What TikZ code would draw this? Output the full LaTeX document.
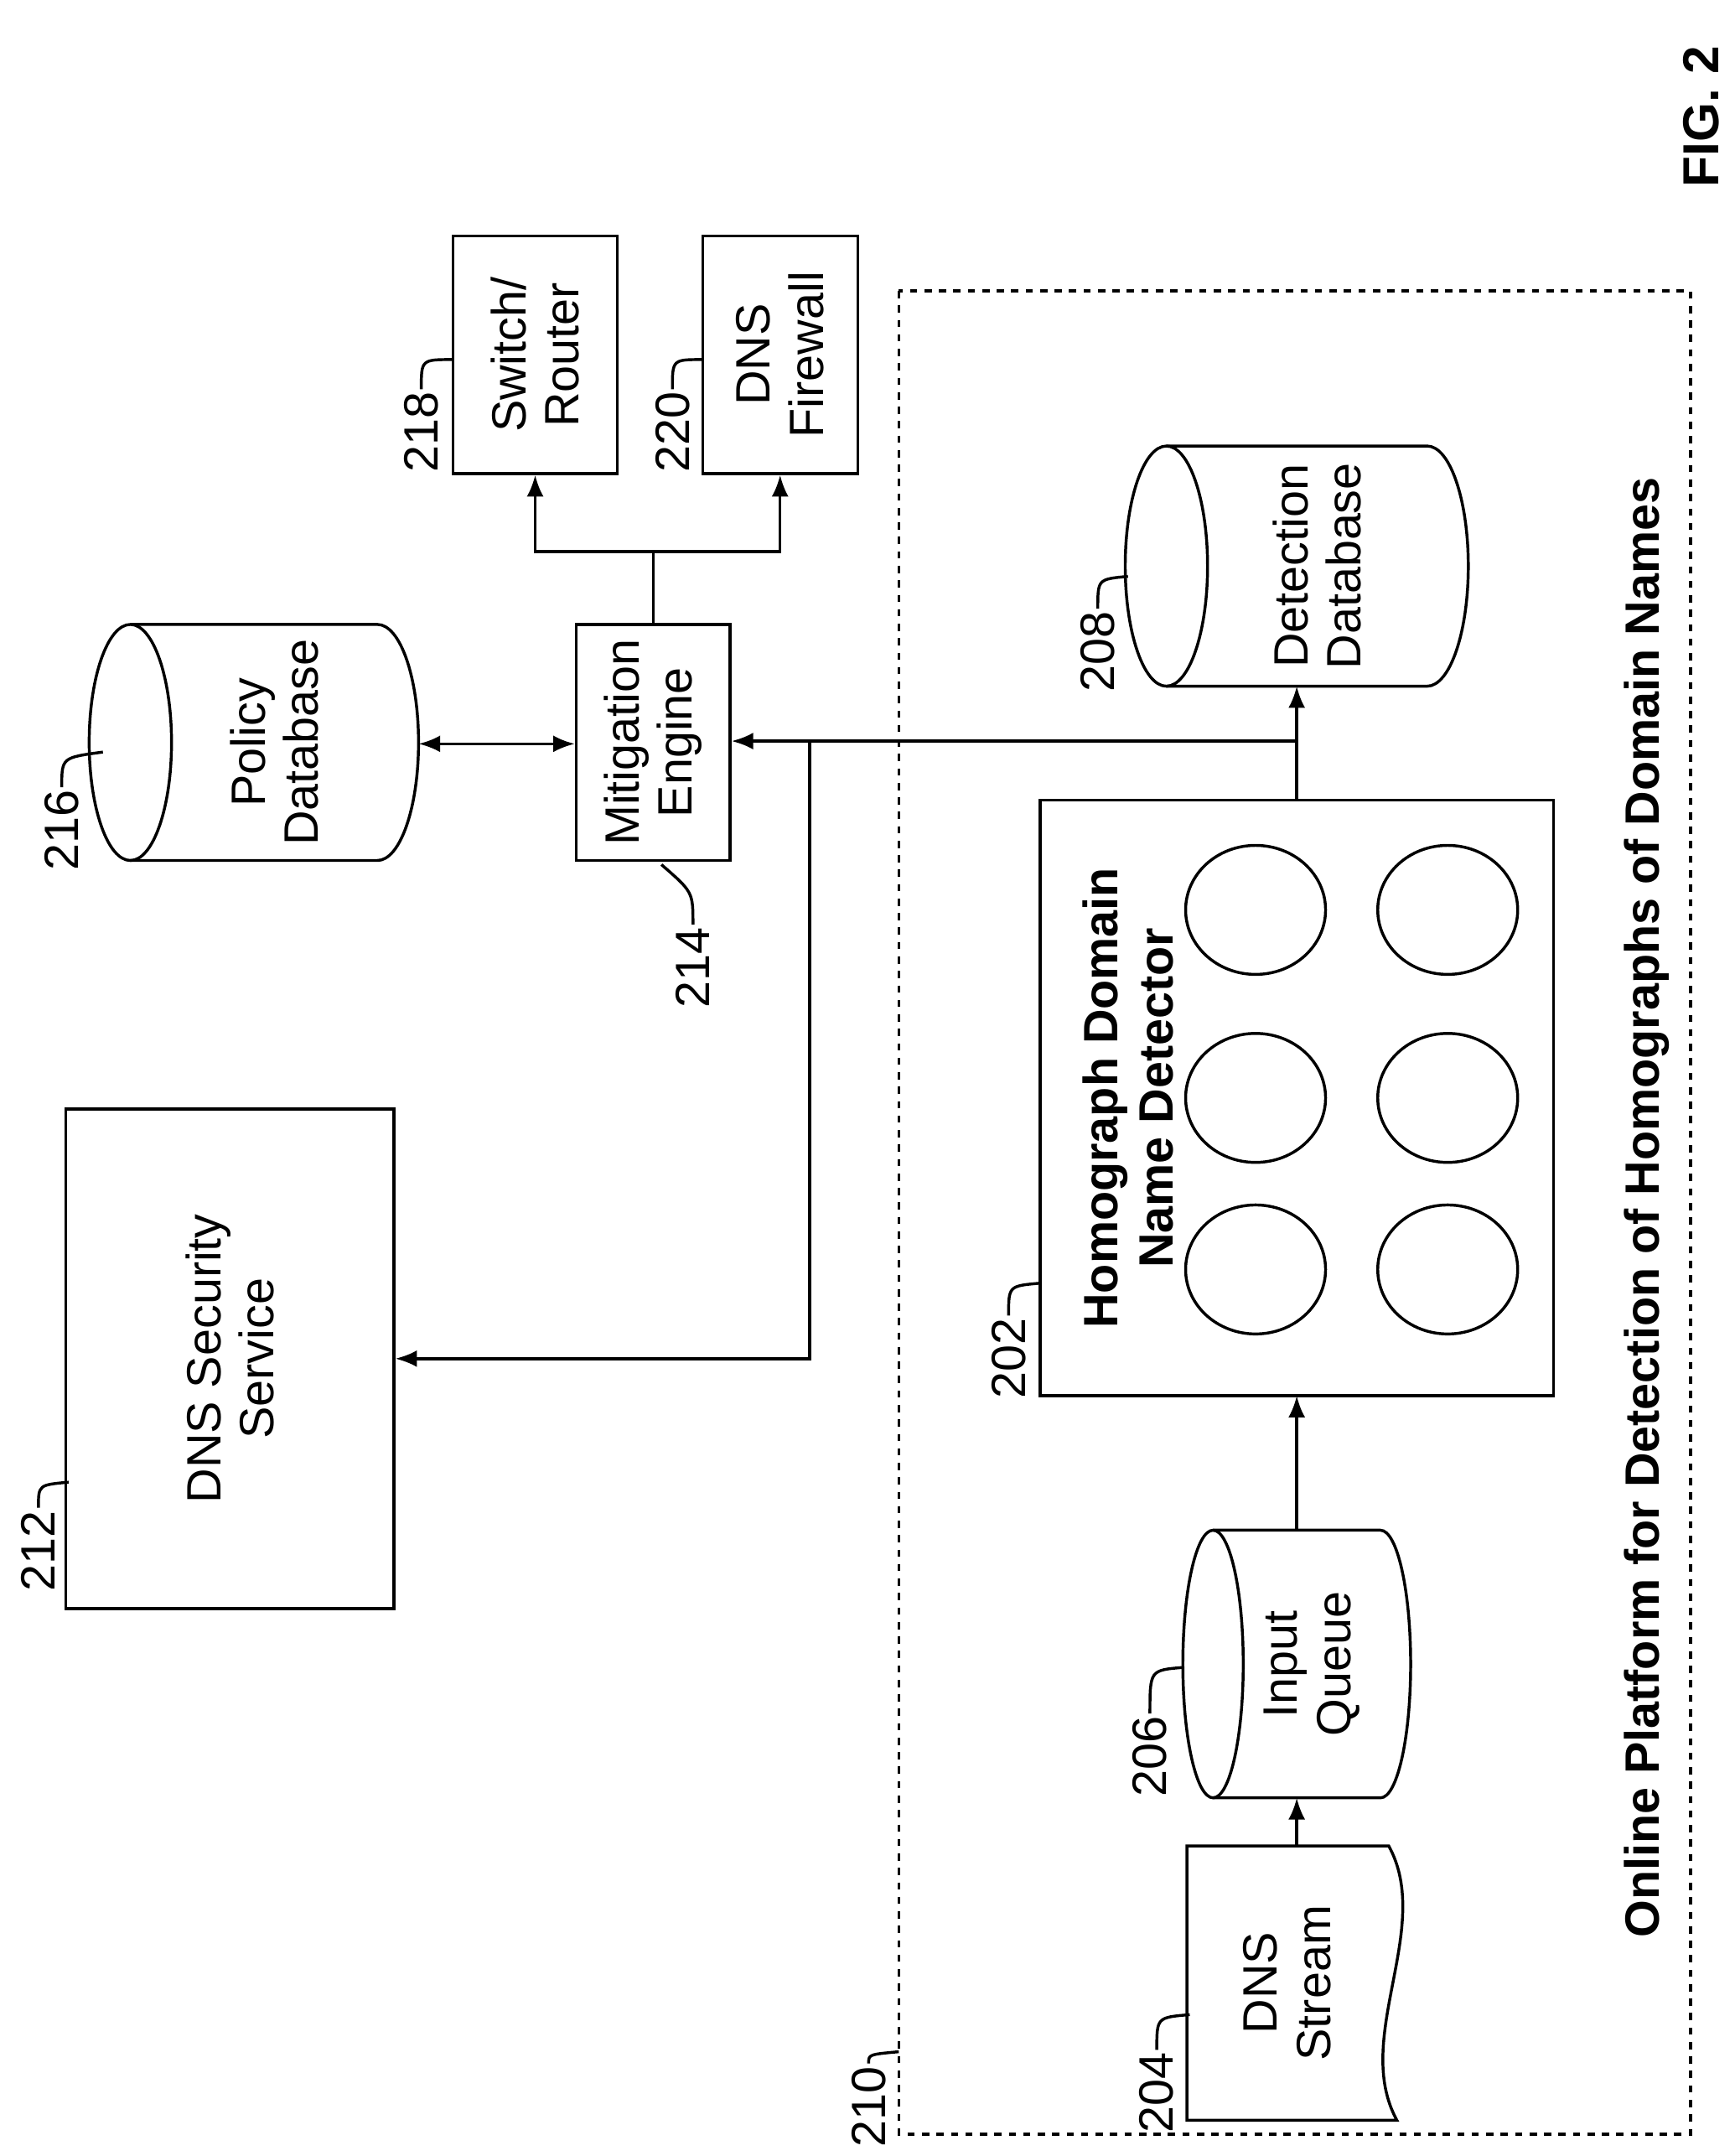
\documentclass[tikz,border=0pt]{standalone}
\usepackage{fontspec}
\setmainfont{Liberation Sans}
\usetikzlibrary{positioning,arrows.meta}

% horizontal database cylinder: name, x1, y1, x2, y2, rx, text
\newcommand\dbcyl[7]{%
  \draw[thick] (#2+#6,#3) -- (#4-#6,#3)
    arc[start angle=-90,end angle=90,x radius=#6,y radius={(#5-#3)/2}] -- (#2+#6,#5);
  \draw[thick] (#2+#6,{(#3+#5)/2}) ellipse[x radius=#6,y radius={(#5-#3)/2}];
  \node[txt] (#1) at ({(#2+#4)/2+#6/2},{(#3+#5)/2}) {#7};
}

\begin{document}
\begin{tikzpicture}[x=0.02cm,y=-0.02cm,
    thick/.style={line width=1.2pt},
    txt/.style={rotate=90,align=center,font=\fontsize{20}{22}\selectfont},
    box/.style={draw,thick,rectangle,inner sep=0pt},
    lbl/.style={rotate=90,font=\fontsize{20}{22}\selectfont,inner sep=1pt},
    flow/.style={thick,-{Latex[length=9pt,width=7pt]}},
    lead/.style={thick}]
  \useasboundingbox (0,0) rectangle (1264,1571);

  % platform
  \draw[thick,dashed] (655,212) rectangle (1232,1555);
  \node[rotate=90,font=\bfseries\fontsize{20}{23}\selectfont] (title) at (1200,880)
    {Online Platform for Detection of Homographs of Domain Names};
  \node[rotate=90,font=\bfseries\fontsize{21}{24}\selectfont] (fig) at (1240,85) {FIG. 2};

  % DNS stream
  \draw[thick] (865,1345) -- (1012,1345) .. controls (1045,1405) and (985,1485) .. (1018,1545)
    -- (865,1545) -- cycle;
  \node[txt] (stream) at (938,1445) {DNS\\Stream};
  \coordinate (streamtop) at (945,1345);

  % databases
  \dbcyl{queue}{862}{1115}{1028}{1310}{22}{Input\\Queue}
  \dbcyl{detdb}{820}{325}{1070}{500}{30}{Detection\\Database}
  \dbcyl{poldb}{65}{455}{305}{627}{30}{Policy\\Database}
  \coordinate (queuetop) at (945,1310);
  \coordinate (queuebot) at (945,1115);
  \coordinate (detdbin) at (945,500);
  \coordinate (poldbr) at (305,542);

  % detector
  \draw[thick] (758,583) rectangle (1132,1017);
  \node[rotate=90,align=center,font=\bfseries\fontsize{20}{23}\selectfont] (dettitle) at (822,800)
    {Homograph Domain\\Name Detector};
  \foreach \cx in {915,1055}
    \foreach \cy in {663,800,925}
      \draw[thick] (\cx,\cy) ellipse[x radius=51,y radius=47];
  \coordinate (detin) at (945,1017);
  \coordinate (detout) at (945,583);
  \coordinate (split) at (945,540);
  \coordinate (branch) at (590,540);
  \coordinate (branchlow) at (590,990);

  % other boxes
  \node[box,minimum width=239*0.02cm,minimum height=364*0.02cm] (dss) at (167.5,990) {};
  \node[txt] at (dss) {DNS Security\\Service};
  \node[box,minimum width=112*0.02cm,minimum height=172*0.02cm] (mit) at (476,541) {};
  \node[txt] at (mit) {Mitigation\\Engine};
  \node[box,minimum width=120*0.02cm,minimum height=173*0.02cm] (sw) at (390,258.5) {};
  \node[txt] at (sw) {Switch/\\Router};
  \node[box,minimum width=113*0.02cm,minimum height=173*0.02cm] (fw) at (568.5,258.5) {};
  \node[txt] at (fw) {DNS\\Firewall};
  \coordinate (fork) at (476,402);

  % connectors
  \draw[flow] (streamtop) -- (queuetop);
  \draw[flow] (queuebot) -- (detin);
  \draw[flow] (detout) -- (detdbin);
  \draw[flow] (split) -- (mit.east |- split);
  \draw[flow] (branch) -- (branchlow) -- (dss.east |- branchlow);
  \draw[thick,{Latex[length=9pt,width=7pt]}-{Latex[length=9pt,width=7pt]}] (poldbr) -- (mit.west |- poldbr);
  \draw[thick] (mit.north) -- (fork);
  \draw[flow] (fork) -| (sw.south);
  \draw[flow] (fork) -| (fw.south);

  % reference numerals
  \node[lbl] (l216) at (45,605) {216};
  \draw[lead] (l216.east) .. controls (45,552) .. (75,548);
  \node[lbl] (l214) at (505,705) {214};
  \draw[lead] (l214.east) .. controls (505,650) .. (482,630);
  \node[lbl] (l212) at (28,1130) {212};
  \draw[lead] (l212.east) .. controls (28,1082) .. (50,1080);
  \node[lbl] (l218) at (307,315) {218};
  \draw[lead] (l218.east) .. controls (307,262) .. (330,262);
  \node[lbl] (l220) at (490,315) {220};
  \draw[lead] (l220.east) .. controls (490,262) .. (512,262);
  \node[lbl] (l208) at (800,475) {208};
  \draw[lead] (l208.east) .. controls (800,422) .. (822,420);
  \node[lbl] (l202) at (735,990) {202};
  \draw[lead] (l202.east) .. controls (735,937) .. (758,935);
  \node[lbl] (l206) at (838,1280) {206};
  \draw[lead] (l206.east) .. controls (838,1217) .. (862,1215);
  \node[lbl] (l204) at (843,1525) {204};
  \draw[lead] (l204.east) .. controls (843,1470) .. (867,1468);
  \node[lbl] (l210) at (633,1535) {210};
  \draw[lead] (l210.east) .. controls (633,1497) .. (655,1495);
\end{tikzpicture}
\end{document}
